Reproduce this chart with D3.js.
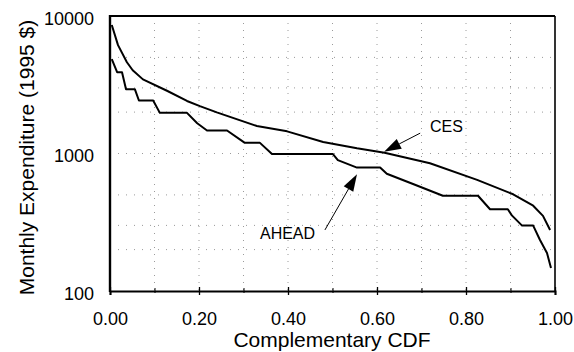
<!DOCTYPE html>
<html><head><meta charset="utf-8">
<script src="https://cdn.jsdelivr.net/npm/d3@7"></script>
<style>
html,body{margin:0;padding:0;background:#fff;}
svg{display:block;font-family:"Liberation Sans",Arial,Helvetica,sans-serif;}
</style></head>
<body>
<svg id="chart" width="574" height="352"></svg>
<script>
// ---- data ----
const cesX = [0.004,0.018,0.038,0.051,0.074,0.128,0.173,0.202,0.240,0.330,0.398,0.479,0.555,0.617,0.719,0.825,0.906,0.951,0.973,0.989];
const cesY = [8600,6140,4610,4030,3460,2860,2410,2210,1990,1585,1449,1213,1091,1013,849,643,505,417,352,278];
const aheadX = [0.004,0.016,0.027,0.036,0.056,0.065,0.097,0.112,0.173,0.196,0.218,0.263,0.303,0.337,0.364,0.501,0.512,0.555,0.607,0.622,0.681,0.748,0.827,0.854,0.894,0.903,0.926,0.951,0.966,0.982,0.991];
const aheadY = [4860,3900,3900,2930,2930,2430,2430,1975,1975,1660,1470,1470,1195,1195,990,990,895,790,790,713,600,493,493,393,393,355,299,299,236,189,147];
const xMajorTicks = [0,0.2,0.4,0.6,0.8,1.0];
const xMinorTicks = [0.1,0.3,0.5,0.7,0.9];
const yTicks = [100,1000,10000];
const xGrid = [0.1,0.2,0.3,0.4,0.5,0.6,0.7,0.8,0.9];
const yGrid = [200,300,500,1000,2000,3000,5000];
const xTitle = "Complementary CDF";
const yTitle = "Monthly Expenditure (1995 $)";
// annotations: label, label position, arrow tail, arrow tip (data units)
const annLabels = ["CES","AHEAD"];
const annLabelPos = [[0.719,1425],[0.337,239]];
const annTail = [[0.697,1406],[0.483,278]];
const annTip = [[0.616,1030],[0.555,706]];

// ---- layout ----
const L=110, R=555, T=16, B=291;
const svg = d3.select("#chart");
const x = d3.scaleLinear().domain([0,1]).range([L,R]);
const y = d3.scaleLog().domain([100,10000]).range([B,T]);

// grid
const g = svg.append("g");
g.selectAll(".vg").data(xGrid).join("line")
  .attr("x1",d=>x(d)).attr("x2",d=>x(d)).attr("y1",T).attr("y2",B)
  .attr("stroke","#9a9a9a").attr("stroke-width",1).attr("stroke-dasharray","1,6");
g.selectAll(".hg").data(yGrid).join("line")
  .attr("y1",d=>y(d)).attr("y2",d=>y(d)).attr("x1",L).attr("x2",R)
  .attr("stroke","#9a9a9a").attr("stroke-width",1).attr("stroke-dasharray","1,7");

// series
const line = d3.line().x(d=>x(d[0])).y(d=>y(d[1]));
svg.append("path").datum(cesX.map((v,i)=>[v,cesY[i]]))
  .attr("d",line).attr("fill","none").attr("stroke","#000").attr("stroke-width",2).attr("stroke-linejoin","round");
svg.append("path").datum(aheadX.map((v,i)=>[v,aheadY[i]]))
  .attr("d",line).attr("fill","none").attr("stroke","#000").attr("stroke-width",2).attr("stroke-linejoin","round");

// frame
svg.append("line").attr("x1",L).attr("x2",R).attr("y1",T).attr("y2",T).attr("stroke","#000").attr("stroke-width",2);
svg.append("line").attr("x1",R).attr("x2",R).attr("y1",T).attr("y2",B).attr("stroke","#000").attr("stroke-width",1.6);
svg.append("line").attr("x1",L).attr("x2",L).attr("y1",T-1).attr("y2",B+1).attr("stroke","#000").attr("stroke-width",2.4);

// x axis
const xa = svg.append("g").attr("transform",`translate(0,${B})`)
  .call(d3.axisBottom(x).tickValues(xMajorTicks).tickFormat(d3.format(".2f")).tickSize(4).tickPadding(17));
xa.select(".domain").attr("stroke-width",2);
xa.selectAll(".tick line").attr("y1",-4).attr("y2",4).attr("stroke-width",1.3);
xa.selectAll("text").attr("font-size",18).attr("fill","#000").attr("font-family","Liberation Sans, Arial, sans-serif");
const xm = svg.append("g").attr("transform",`translate(0,${B})`)
  .call(d3.axisBottom(x).tickValues(xMinorTicks).tickFormat("").tickSize(3));
xm.select(".domain").remove();
xm.selectAll(".tick line").attr("y1",-3).attr("y2",2);

// y axis
const ya = svg.append("g").attr("transform",`translate(${L},0)`)
  .call(d3.axisLeft(y).tickValues(yTicks).tickFormat(d3.format("d")).tickSize(0).tickPadding(16));
ya.select(".domain").remove();
ya.selectAll("text").attr("font-size",18).attr("fill","#000").attr("dy","0.45em").attr("font-family","Liberation Sans, Arial, sans-serif");

// titles
svg.append("text").attr("x",(L+R)/2-0.5).attr("y",347).attr("text-anchor","middle")
  .attr("font-size",21).text(xTitle);
svg.append("text").attr("transform",`translate(34,${(T+B)/2+4}) rotate(-90)`).attr("text-anchor","middle")
  .attr("font-size",21).text(yTitle);

// annotations
annLabels.forEach((lab,i)=>{
  svg.append("text").attr("x",x(annLabelPos[i][0])).attr("y",y(annLabelPos[i][1]))
    .attr("font-size",16).text(lab);
  const tx=x(annTail[i][0]), ty=y(annTail[i][1]);
  const px=x(annTip[i][0]), py=y(annTip[i][1]);
  const dx=px-tx, dy=py-ty, len=Math.hypot(dx,dy), ux=dx/len, uy=dy/len;
  const hl=17, hw=5.5;
  const bx=px-ux*hl, by=py-uy*hl;
  svg.append("line").attr("x1",tx).attr("y1",ty).attr("x2",bx).attr("y2",by)
    .attr("stroke","#000").attr("stroke-width",1);
  svg.append("path").attr("d",`M${px},${py}L${bx-uy*hw},${by+ux*hw}L${bx+uy*hw},${by-ux*hw}Z`)
    .attr("fill","#000");
});
</script>
</body></html>
